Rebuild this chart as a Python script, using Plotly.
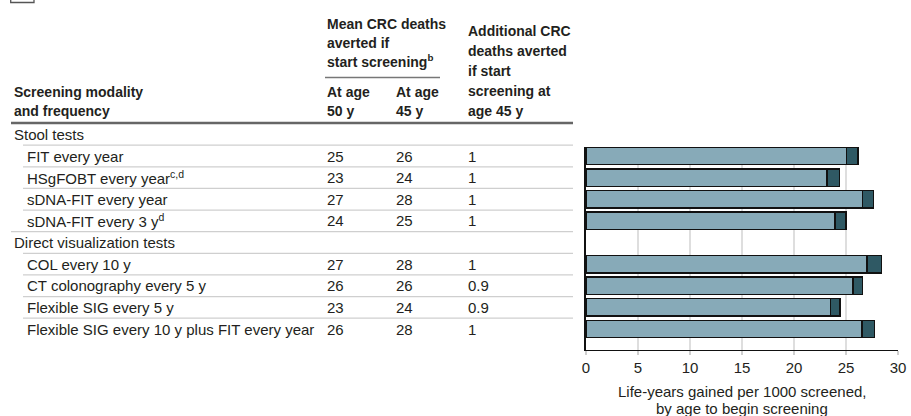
import plotly.graph_objects as go

# ---------------- data ----------------
rows = [
    "Stool tests",
    "FIT every year",
    "HSgFOBT every year<sup>c,d</sup>",
    "sDNA-FIT every year",
    "sDNA-FIT every 3 y<sup>d</sup>",
    "Direct visualization tests",
    "COL every 10 y",
    "CT colonography every 5 y",
    "Flexible SIG every 5 y",
    "Flexible SIG every 10 y plus FIT every year",
]
group_rows = ["Stool tests", "Direct visualization tests"]

modalities = [
    "FIT every year",
    "HSgFOBT every year<sup>c,d</sup>",
    "sDNA-FIT every year",
    "sDNA-FIT every 3 y<sup>d</sup>",
    "COL every 10 y",
    "CT colonography every 5 y",
    "Flexible SIG every 5 y",
    "Flexible SIG every 10 y plus FIT every year",
]
deaths_50 = ["25", "23", "27", "24", "27", "26", "23", "26"]
deaths_45 = ["26", "24", "28", "25", "28", "26", "24", "28"]
deaths_additional = ["1", "1", "1", "1", "1", "0.9", "0.9", "1"]

life_years_50 = [25.05, 23.19, 26.60, 23.96, 27.04, 25.69, 23.51, 26.53]
life_years_45 = [26.14, 24.37, 27.62, 25.02, 28.42, 26.59, 24.41, 27.72]
life_years_extra = [b - a for a, b in zip(life_years_50, life_years_45)]

x_ticks = [0, 5, 10, 15, 20, 25, 30]

# ---------------- layout helpers ----------------
W, H = 911, 416
L, R, T, B = 586, 898, 147, 350  # plot area in pixels
PITCH = 21.625                   # row pitch in pixels
ROW0 = 156 - PITCH               # centre of row 0 in pixels


def xp(px):
    return (px - L) / (R - L)


def yp(py):
    return (B - py) / (B - T)


FONT = "Liberation Sans, Arial, sans-serif"
TXT = "#231f20"
LIGHT = "#87aab8"
DARK = "#2f5964"

fig = go.Figure()
fig.add_trace(go.Bar(
    y=modalities, x=life_years_50, orientation="h", width=0.8,
    marker=dict(color=LIGHT, line=dict(color="#111", width=1.5)),
    name="Age 50 y", hoverinfo="x+y",
))
fig.add_trace(go.Bar(
    y=modalities, x=life_years_extra, orientation="h", width=0.8,
    marker=dict(color=DARK, line=dict(color="#111", width=1.5)),
    name="Additional, age 45 y", hoverinfo="x+y",
))

ann = []
# row texts
for i, r in enumerate(rows):
    indent = 11.5 if r in group_rows else 25
    if i == 0:
        ypos, yref = yp(ROW0), "paper"
    else:
        ypos, yref = r, "y"
    ann.append(dict(x=xp(indent), xref="paper", y=ypos, yref=yref, text=r,
                    xanchor="left", yanchor="middle", showarrow=False,
                    font=dict(size=15, color=TXT, family=FONT)))
for m, a, b, c in zip(modalities, deaths_50, deaths_45, deaths_additional):
    for px, t in ((325, a), (394, b), (466, c)):
        ann.append(dict(x=xp(px), xref="paper", y=m, yref="y", text=t,
                        xanchor="left", yanchor="middle", showarrow=False,
                        font=dict(size=15, color=TXT, family=FONT)))

# headers
hdr = [
    (11.5, 92, "Screening modality"),
    (11.5, 111, "and frequency"),
    (325, 24, "Mean CRC deaths"),
    (325, 43, "averted if"),
    (325, 61, "start screening<sup>b</sup>"),
    (325, 92, "At age"),
    (394, 92, "At age"),
    (325, 111, "50 y"),
    (394, 111, "45 y"),
    (466, 31, "Additional CRC"),
    (466, 51, "deaths averted"),
    (466, 71, "if start"),
    (466, 91, "screening at"),
    (466, 111, "age 45 y"),
]
for px, py, t in hdr:
    ann.append(dict(x=xp(px), xref="paper", y=yp(py), yref="paper", text="<b>" + t + "</b>",
                    xanchor="left", yanchor="middle", showarrow=False,
                    font=dict(size=14, color=TXT, family=FONT)))

# axis title
ann.append(dict(x=0.5, xref="paper", y=yp(391), yref="paper",
                text="Life-years gained per 1000 screened,", showarrow=False,
                xanchor="center", yanchor="middle",
                font=dict(size=15, color=TXT, family=FONT)))
ann.append(dict(x=0.5, xref="paper", y=yp(408), yref="paper",
                text="by age to begin screening", showarrow=False,
                xanchor="center", yanchor="middle",
                font=dict(size=15, color=TXT, family=FONT)))

shapes = []
# panel label box (cut off at top)
shapes.append(dict(type="rect", xref="paper", yref="paper",
                   x0=xp(10.7), x1=xp(34), y0=yp(2.5), y1=yp(-20),
                   line=dict(color="#555", width=1.3)))
# header rules
shapes.append(dict(type="line", xref="paper", yref="paper",
                   x0=xp(325), x1=xp(440), y0=yp(77.5), y1=yp(77.5),
                   line=dict(color="#777", width=1.5)))
shapes.append(dict(type="line", xref="paper", yref="paper",
                   x0=xp(11), x1=xp(573), y0=yp(123), y1=yp(123),
                   line=dict(color="#666", width=2.5)))
# row separators
for i in range(len(rows) - 1):
    ysep = ROW0 + (i + 0.5) * PITCH
    nxt = rows[i + 1]
    x0 = 11 if nxt in group_rows else 23
    shapes.append(dict(type="line", xref="paper", yref="paper",
                       x0=xp(x0), x1=xp(573), y0=yp(ysep), y1=yp(ysep),
                       line=dict(color="#cfcfcf", width=1.2)))

top_val = 1 - (156 - T) / PITCH
bot_val = (len(rows) - 1) + (B - 329) / PITCH

fig.update_layout(
    width=W, height=H,
    margin=dict(l=L, r=W - R, t=T, b=H - B, pad=0, autoexpand=False),
    barmode="stack", showlegend=False,
    plot_bgcolor="white", paper_bgcolor="white",
    annotations=ann, shapes=shapes,
    font=dict(family=FONT, color=TXT, size=15),
    xaxis=dict(range=[0, 30], tickvals=x_ticks, showgrid=True, automargin=False,
               gridcolor="#dedede", gridwidth=1.5, zeroline=False,
               showline=True, linecolor="#111", linewidth=1.2,
               ticks="outside", ticklen=4, tickcolor="#cfcfcf", tickwidth=1.5,
               tickfont=dict(size=15, color=TXT, family=FONT), fixedrange=True),
    yaxis=dict(type="category", categoryorder="array", categoryarray=rows,
               range=[bot_val, top_val], showticklabels=False, ticks="",
               automargin=False,
               showgrid=False, zeroline=False, showline=True,
               linecolor="#111", linewidth=1.5, fixedrange=True),
)

fig.write_html("out.html",
               config={"displayModeBar": False},
               post_script="document.body.style.margin='0px';document.body.style.overflow='hidden';")
